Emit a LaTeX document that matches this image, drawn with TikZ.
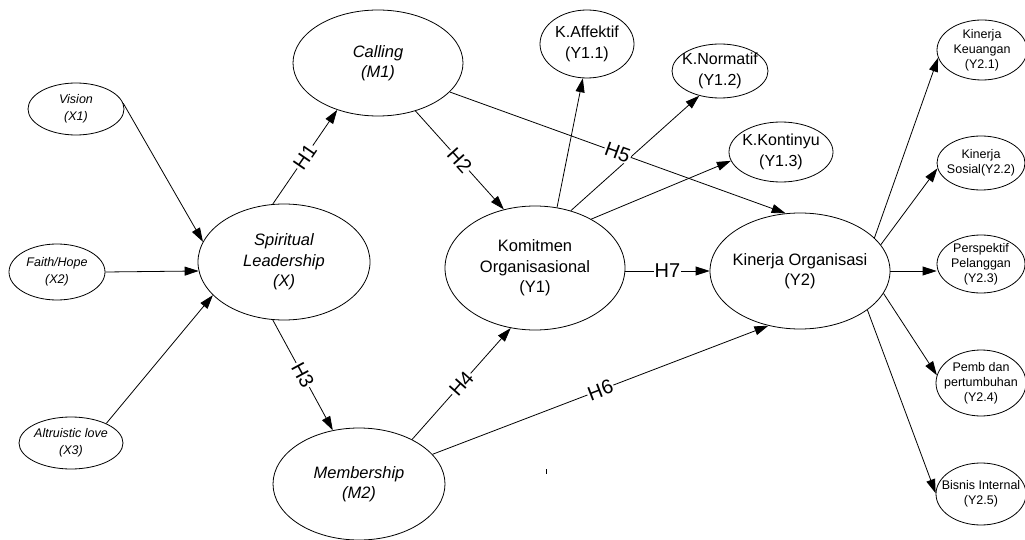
\documentclass[tikz,border=0pt]{standalone}
\usepackage{fontspec}
\setmainfont{Liberation Sans}
\usetikzlibrary{shapes.geometric,arrows.meta}
\begin{document}
\begin{tikzpicture}[x=1pt,y=-1pt,
  lat/.style={draw, ellipse, inner sep=0pt, line width=0.8pt},
  big/.style={align=center, font=\fontsize{16.5}{20.5}\selectfont},
  bigi/.style={align=center, font=\fontsize{16.5}{20.5}\selectfont\itshape},
  mid/.style={align=center, font=\fontsize{16}{21.5}\selectfont},
  sml/.style={align=center, font=\fontsize{12.5}{15}\selectfont},
  smli/.style={align=center, font=\fontsize{12.5}{16.5}\selectfont\itshape},
  arr/.style={draw, line width=0.8pt, -{Triangle[length=14pt,width=9pt]}},
  hl/.style={fill=white, inner sep=1pt, font=\fontsize{20}{20}\selectfont, sloped, pos=0.5}
]
\useasboundingbox (0,0) rectangle (1025,540);

% exogenous indicators
\node[lat, minimum width=96pt, minimum height=52pt, label={[smli]center:Vision\\(X1)}] (X1) at (76,109) {};
\node[lat, minimum width=96pt, minimum height=56pt, label={[smli]center:Faith/Hope\\(X2)}] (X2) at (57,272) {};
\node[lat, minimum width=104pt, minimum height=52pt, label={[smli]center:Altruistic love\\(X3)}] (X3) at (71,443) {};

% constructs
\node[lat, minimum width=172pt, minimum height=116pt, label={[bigi]center:Spiritual\\Leadership\\(X)}] (X) at (284,262) {};
\node[lat, minimum width=170pt, minimum height=106pt, label={[bigi]center:Calling\\(M1)}] (M1) at (378,63) {};
\node[lat, minimum width=172pt, minimum height=112pt, label={[bigi]center:Membership\\(M2)}] (M2) at (359,484) {};
\node[lat, minimum width=180pt, minimum height=124pt, label={[big]center:Komitmen\\Organisasional\\(Y1)}] (Y1) at (535,268) {};
\node[lat, minimum width=180pt, minimum height=116pt, label={[big]center:Kinerja Organisasi\\(Y2)}] (Y2) at (800,271) {};

% Y1 indicators
\node[lat, minimum width=94pt, minimum height=68pt, label={[mid]center:K.Affektif\\(Y1.1)}] (Y11) at (587,44) {};
\node[lat, minimum width=96pt, minimum height=54pt, label={[mid]center:K.Normatif\\(Y1.2)}] (Y12) at (720,71) {};
\node[lat, minimum width=104pt, minimum height=60pt, label={[mid]center:K.Kontinyu\\(Y1.3)}] (Y13) at (781,152) {};

% Y2 indicators
\node[lat, minimum width=90pt, minimum height=60pt, label={[sml]center:Kinerja\\Keuangan\\(Y2.1)}] (Y21) at (982,50) {};
\node[lat, minimum width=88pt, minimum height=54pt, label={[sml]center:Kinerja\\Sosial(Y2.2)}] (Y22) at (981,163) {};
\node[lat, minimum width=88pt, minimum height=58pt, label={[sml]center:Perspektif\\Pelanggan\\(Y2.3)}] (Y23) at (981,264) {};
\node[lat, minimum width=90pt, minimum height=66pt, label={[sml]center:Pemb dan\\pertumbuhan\\(Y2.4)}] (Y24) at (981,383) {};
\node[lat, minimum width=90pt, minimum height=62pt, label={[sml]center:Bisnis Internal\\(Y2.5)}] (Y25) at (981,494) {};

% indicator arrows
\path[arr] (X1.7) -- (X.166);
\path[arr] (X2.east) -- (X.186);
\path[arr] (X3.29) -- (X.205);
\path[arr] (Y1.70) -- (Y11.263);
\path[arr] (Y1.58) -- (Y12.230);
\path[arr] (Y1.41) -- (Y13.190);
\path[arr] (Y2.24) -- (Y21.190);
\path[arr] (Y2.18) -- (Y22.187);
\path[arr] (Y2.east) -- (Y2.east -| Y23.west);
\path[arr] (Y2.345) -- (Y24.170);
\path[arr] (Y2.330) -- (Y25.179);

% hypotheses
\path[arr] (X.101) -- node[hl]{H1} (M1.229);
\path[arr] (M1.308) -- node[hl]{H2} (Y1.118);
\path[arr] (X.259) -- node[hl]{H3} (M2.116);
\path[arr] (M2.40) -- node[hl]{H4} (Y1.248);
\path[arr] (M1.338) -- node[hl]{H5} (Y2.104);
\path[arr] (M2.22) -- node[hl]{H6} (Y2.240);
\path[arr] (Y1.east |- Y2.west) -- node[hl]{H7} (Y2.west);

% stray mark
\draw[line width=0.8pt] (546,469) -- (546,474);
\end{tikzpicture}
\end{document}
